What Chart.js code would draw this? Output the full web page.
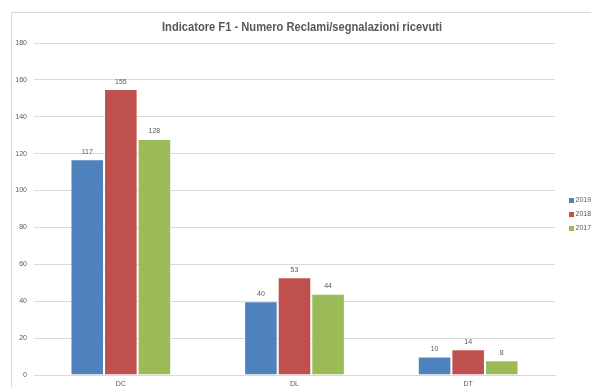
<!DOCTYPE html>
<html>
<head>
<meta charset="utf-8">
<script src="https://cdn.jsdelivr.net/npm/chart.js@4"></script>
<style>
  html, body { margin: 0; padding: 0; background: #fff; overflow: hidden; }
  #wrap { position: relative; width: 591px; height: 387px; }
  #frame { position: absolute; left: 11px; top: 12px; width: 620px; height: 420px; border: 1px solid #d9d9d9; box-sizing: border-box; }
  canvas { position: absolute; left: 0; top: 0; }
</style>
</head>
<body>
<div id="wrap">
  <div id="frame"></div>
  <canvas id="c" width="591" height="387"></canvas>
</div>
<script>
// Reclami/segnalazioni ricevuti per area e anno
const categories = ['DC', 'DL', 'DT'];
const years = ['2019', '2018', '2017'];
const values2019 = [117, 40, 10];
const values2018 = [155, 53, 14];
const values2017 = [128, 44, 8];
const yTicks = [0, 20, 40, 60, 80, 100, 120, 140, 160, 180];

const chartTitle = 'Indicatore F1 - Numero Reclami/segnalazioni ricevuti';
const colors = ['#4F81BD', '#C0504D', '#9BBB59'];
const textColor = '#595959';
const gridColor = '#d9d9d9';
const smallFont = { family: "'Liberation Sans', Arial, sans-serif", size: 7 };

const series = [values2019, values2018, values2017];

// Title centred over the whole frame, in a condensed bold face
const titlePlugin = {
  id: 'frameTitle',
  afterDraw(chart) {
    const ctx = chart.ctx;
    ctx.save();
    ctx.font = "bold 13px 'Liberation Sans', Arial, sans-serif";
    ctx.fillStyle = textColor;
    ctx.textAlign = 'center';
    ctx.textBaseline = 'middle';
    ctx.fillText(chartTitle, 302, 27, 280);
    ctx.restore();
  }
};

// Value labels above each bar
const valueLabels = {
  id: 'valueLabels',
  afterDatasetsDraw(chart) {
    const ctx = chart.ctx;
    ctx.save();
    ctx.font = smallFont.size + 'px ' + smallFont.family;
    ctx.fillStyle = textColor;
    ctx.textAlign = 'center';
    ctx.textBaseline = 'bottom';
    chart.data.datasets.forEach((ds, i) => {
      chart.getDatasetMeta(i).data.forEach((bar, j) => {
        ctx.fillText(String(ds.data[j]), bar.x, bar.y - 4);
      });
    });
    ctx.restore();
  }
};

// Legend listed to the right of the plot
const sideLegend = {
  id: 'sideLegend',
  afterDraw(chart) {
    const ctx = chart.ctx;
    const x = chart.chartArea.right + 14;
    const y0 = 200.5;
    ctx.save();
    ctx.font = smallFont.size + 'px ' + smallFont.family;
    ctx.textBaseline = 'middle';
    ctx.textAlign = 'left';
    chart.data.datasets.forEach((ds, i) => {
      const y = y0 + i * 14;
      ctx.fillStyle = ds.backgroundColor;
      ctx.fillRect(x, y - 2.5, 5, 5);
      ctx.fillStyle = textColor;
      ctx.fillText(ds.label, x + 6.5, y);
    });
    ctx.restore();
  }
};

new Chart(document.getElementById('c'), {
  type: 'bar',
  data: {
    labels: categories,
    datasets: years.map((y, i) => ({
      label: y,
      data: series[i],
      backgroundColor: colors[i],
      borderColor: 'rgba(255,255,255,0.55)',
      borderWidth: 1,
      categoryPercentage: 0.58,
      barPercentage: 1.0
    }))
  },
  options: {
    responsive: false,
    animation: false,
    devicePixelRatio: 1,
    layout: { padding: { left: 4, right: 36, top: 43, bottom: 0 } },
    plugins: {
      legend: { display: false },
      title: { display: false },
      tooltip: { enabled: false }
    },
    scales: {
      x: {
        grid: { display: false, drawTicks: false },
        border: { display: true, color: gridColor },
        ticks: { color: textColor, font: smallFont, padding: 5 },
        afterFit(scale) { scale.height = 12; }
      },
      y: {
        min: 0,
        max: 180,
        afterBuildTicks(scale) { scale.ticks = yTicks.map(v => ({ value: v })); },
        grid: { color: gridColor, drawTicks: false },
        border: { display: false },
        ticks: { color: textColor, font: smallFont, padding: 7 },
        afterFit(scale) { scale.width = 30; }
      }
    }
  },
  plugins: [titlePlugin, valueLabels, sideLegend]
});
</script>
</body>
</html>
